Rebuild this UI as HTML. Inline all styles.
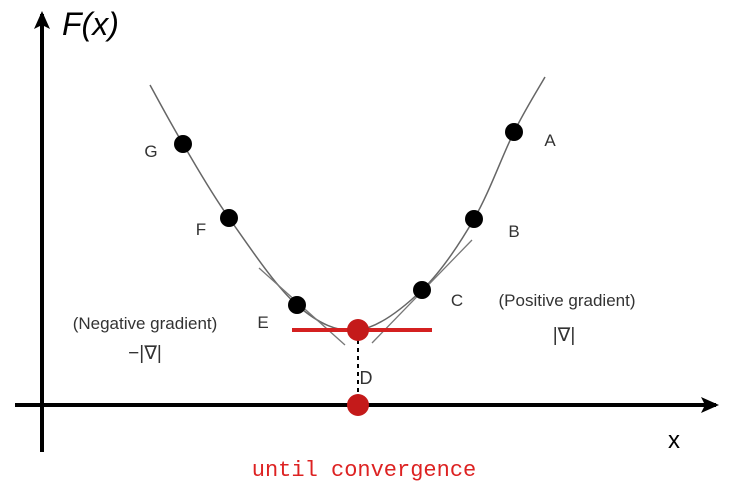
<!DOCTYPE html>
<html><head><meta charset="utf-8"><style>
html,body{margin:0;padding:0;background:#fff;}
svg{display:block;font-family:"Liberation Sans",sans-serif;}
</style></head><body>
<svg id="chart" width="731" height="492" viewBox="0 0 731 492">
<defs>
<marker id="ah" markerWidth="18" markerHeight="16" refX="15" refY="8" orient="auto" markerUnits="userSpaceOnUse"><path d="M0,0 L18,8 L0,16 L4,8 Z" fill="#000"/></marker>
</defs>
<line x1="42" y1="452" x2="42" y2="14" stroke="#000" stroke-width="4" marker-end="url(#ah)"/>
<line x1="15" y1="405" x2="716" y2="405" stroke="#000" stroke-width="4" marker-end="url(#ah)"/>
<text x="62" y="35" font-size="32" font-style="italic" fill="#000">F(x)</text>
<text x="668" y="448" font-size="24" fill="#000">x</text>
<g id="marks"></g>
<text x="364" y="476" font-size="22" fill="#d22" text-anchor="middle" font-family="'Liberation Mono',monospace">until convergence</text>
<text x="145" y="329" font-size="17" fill="#333" text-anchor="middle">(Negative gradient)</text>
<text x="145" y="359" font-size="19" fill="#333" text-anchor="middle">−|∇|</text>
<text x="567" y="306" font-size="17" fill="#333" text-anchor="middle">(Positive gradient)</text>
<text x="564" y="341" font-size="19" fill="#333" text-anchor="middle">|∇|</text>
</svg>
<script>
const curveX = [150, 183, 229, 297, 358, 422, 474, 514, 545];
const curveY = [85, 144, 218, 305, 330, 290, 219, 132, 77];
const pointLabels = ['G', 'F', 'E', 'C', 'B', 'A'];
const pointX = [183, 229, 297, 422, 474, 514];
const pointY = [144, 218, 305, 290, 219, 132];
const labelDX = [-32, -28, -34, 35, 40, 36];
const labelDY = [13, 17, 23, 16, 18, 14];
const minX = 358, minY = 330, axisY = 405;
const NS = 'http://www.w3.org/2000/svg';
const g = document.getElementById('marks');
function mk(t, a) { const e = document.createElementNS(NS, t); for (const k in a) e.setAttribute(k, a[k]); g.appendChild(e); return e; }
let d = 'M' + curveX[0] + ',' + curveY[0];
for (let i = 0; i < curveX.length - 1; i++) {
  const x0 = curveX[Math.max(i-1,0)], y0 = curveY[Math.max(i-1,0)];
  const x1 = curveX[i], y1 = curveY[i], x2 = curveX[i+1], y2 = curveY[i+1];
  const x3 = curveX[Math.min(i+2,curveX.length-1)], y3 = curveY[Math.min(i+2,curveX.length-1)];
  d += ' C' + (x1+(x2-x0)/6) + ',' + (y1+(y2-y0)/6) + ' ' + (x2-(x3-x1)/6) + ',' + (y2-(y3-y1)/6) + ' ' + x2 + ',' + y2;
}
const c = mk('path', {d: d, fill: 'none', stroke: '#666', 'stroke-width': 1.5});


const t1 = mk('line', {x1: 259, y1: 268, x2: 345, y2: 345, stroke: '#777', 'stroke-width': 1.3});


const t2 = mk('line', {x1: 372, y1: 343, x2: 472, y2: 240, stroke: '#777', 'stroke-width': 1.3});


const rl = mk('line', {x1: 292, y1: minY, x2: 432, y2: minY, stroke: '#d42020', 'stroke-width': 4});


const vl = mk('line', {x1: minX, y1: minY + 10, x2: minX, y2: axisY, stroke: '#000', 'stroke-width': 2, 'stroke-dasharray': '4,4'});


for (let i = 0; i < pointX.length; i++) {
  const p = mk('circle', {cx: pointX[i], cy: pointY[i], r: 9, fill: '#000'});
  
  
  const t = mk('text', {x: pointX[i] + labelDX[i], y: pointY[i] + labelDY[i], 'font-size': 17, fill: '#333', 'text-anchor': 'middle'});
  t.textContent = pointLabels[i];
  
  
}
const m = mk('circle', {cx: minX, cy: minY, r: 11, fill: '#c41a1a'});


const dl = mk('text', {x: minX + 8, y: 384, 'font-size': 18, fill: '#333', 'text-anchor': 'middle'});
dl.textContent = 'D';


const ax = mk('circle', {cx: minX, cy: axisY, r: 11, fill: '#c41a1a'});


</script>
</body></html>
